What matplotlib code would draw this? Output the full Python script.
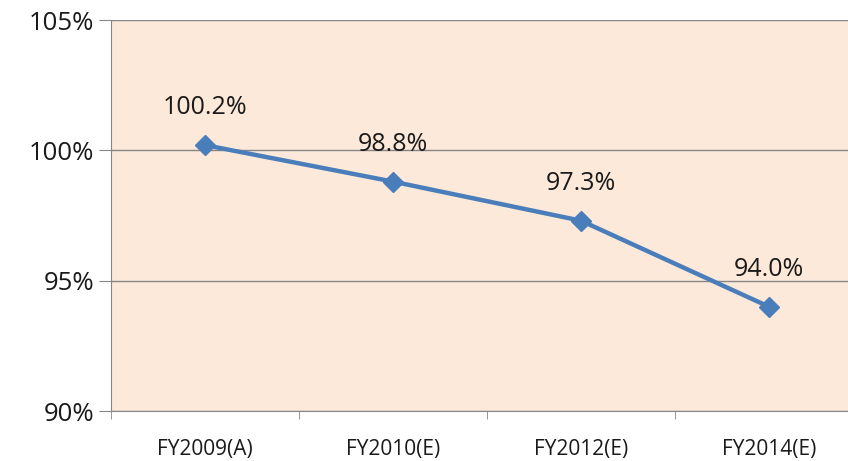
import matplotlib.pyplot as plt

categories = ["FY2009(A)", "FY2010(E)", "FY2012(E)", "FY2014(E)"]
values = [100.2, 98.8, 97.3, 94.0]
labels = ["100.2%", "98.8%", "97.3%", "94.0%"]
yticks = [90, 95, 100, 105]

plt.rcParams['font.family'] = ['Open Sans', 'DejaVu Sans']

fig = plt.figure(figsize=(8.48, 4.61), dpi=100)
# plot area runs past the right edge of the picture, as in the reference
ax = fig.add_axes([111/848, 50/461, 752/848, 391/461])
ax.set_facecolor("#FDE9D9")

x = list(range(len(categories)))
ax.plot(x, values, "-D", color="#4A7EBB", lw=3.2, markersize=10, zorder=3)
for xi, v, lab in zip(x, values, labels):
    ax.annotate(lab, (xi, v), xytext=(0, 27), textcoords="offset points",
                ha="center", va="center", fontsize=18, color="#1a1a1a")

ax.set_xlim(-0.5, len(categories) - 0.5)
ax.set_ylim(90, 105)
ax.set_yticks(yticks)
ax.set_yticklabels([f"{t}%" for t in yticks], fontsize=18.5, color="#1a1a1a")
ax.set_xticks(x)
ax.set_xticklabels(categories, fontsize=15, color="#1a1a1a")
ax.set_xticks([i - 0.5 for i in range(len(categories) + 1)], minor=True)
ax.tick_params(axis="x", which="major", length=0, pad=20)
ax.tick_params(axis="x", which="minor", length=6, color="#868686")
ax.tick_params(axis="y", length=9, color="#868686", pad=3)
ax.grid(axis="y", color="#868686", lw=1)
ax.set_axisbelow(True)
for s in ["top", "right"]:
    ax.spines[s].set_visible(False)
for s in ["left", "bottom"]:
    ax.spines[s].set_color("#868686")

fig.savefig("out.png", dpi=100)
